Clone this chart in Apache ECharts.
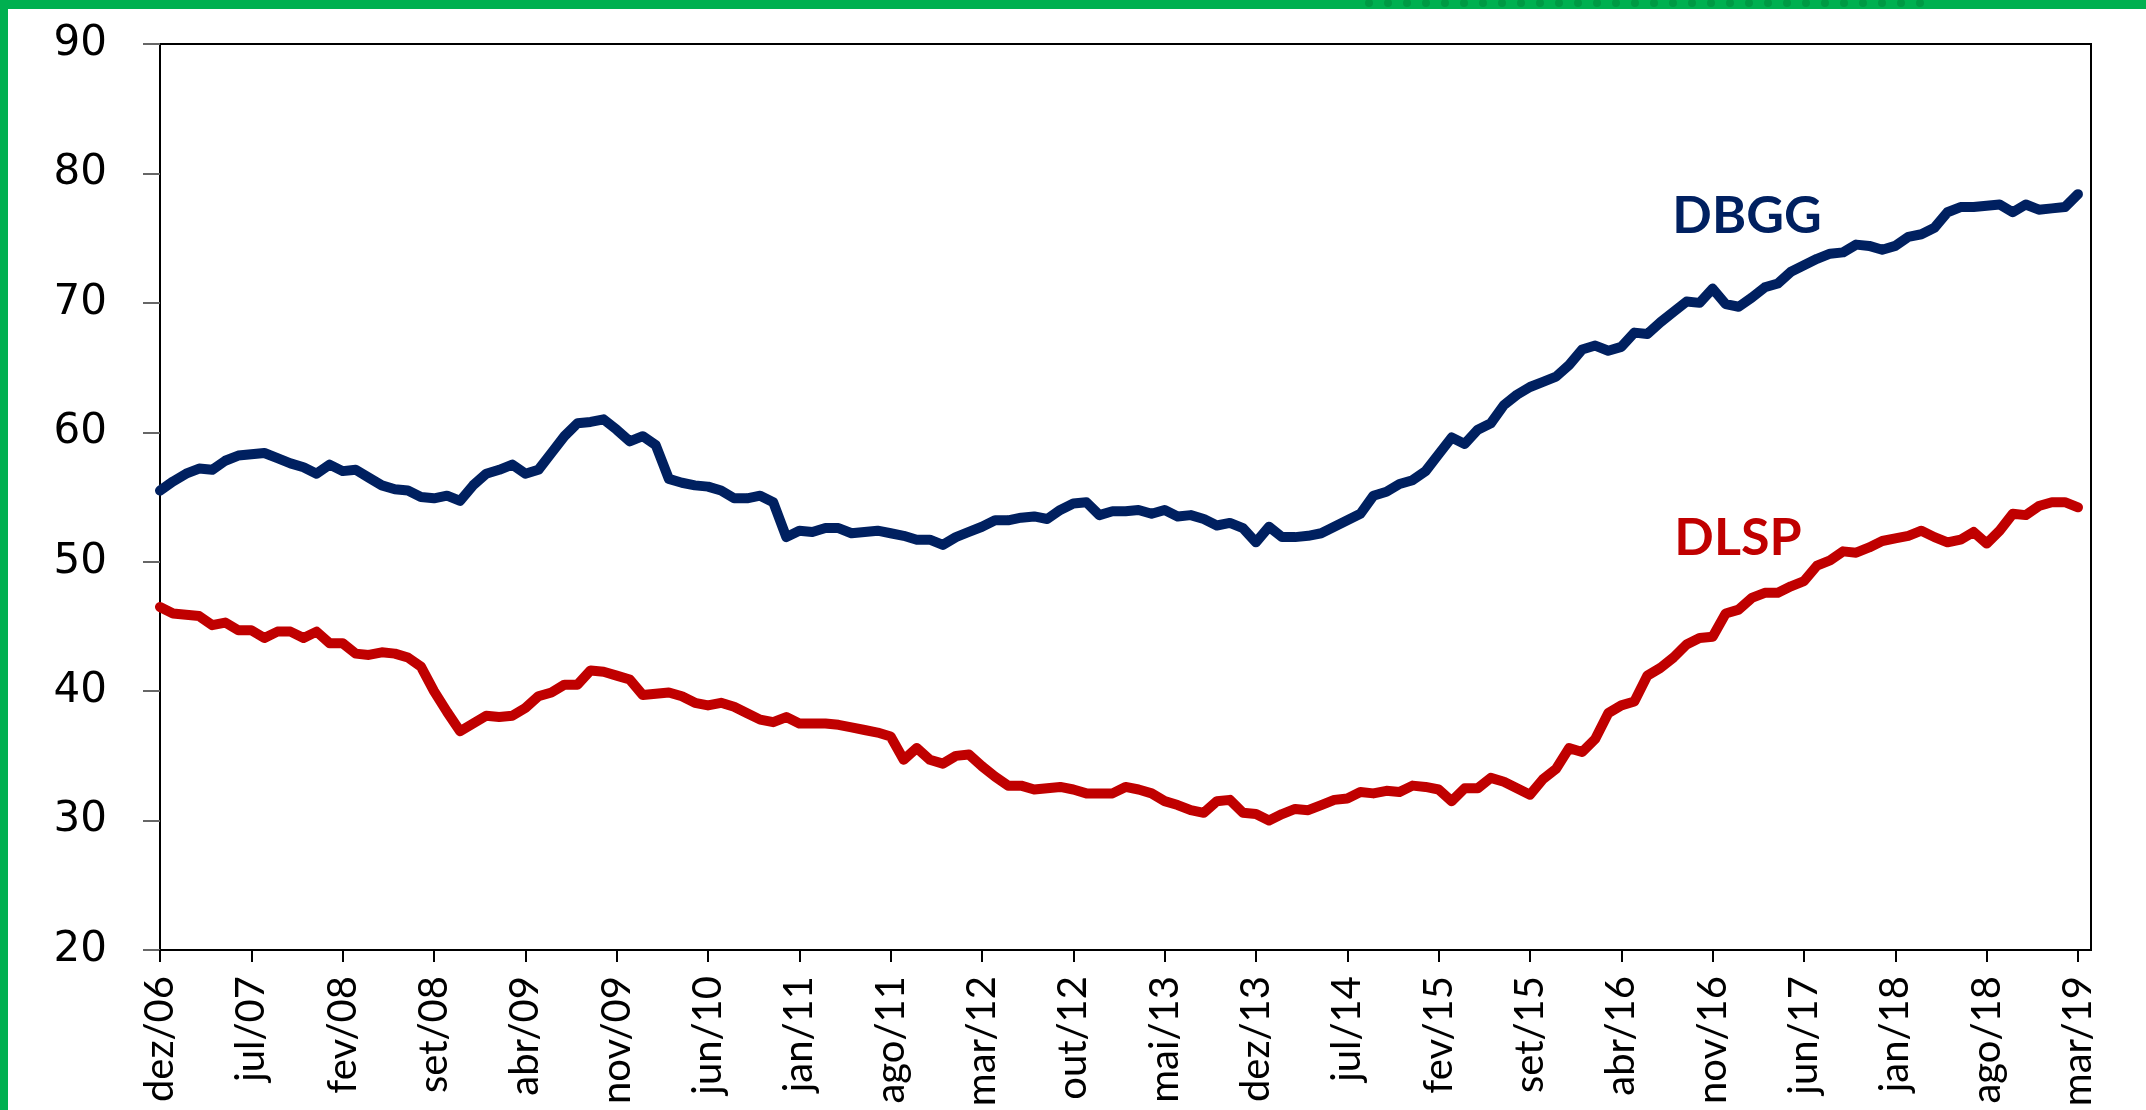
<!DOCTYPE html>
<html>
<head>
<meta charset="UTF-8">
<title>DBGG e DLSP</title>
<script src="https://cdn.jsdelivr.net/npm/echarts@6/dist/echarts.min.js"></script>
<style>
  * { margin: 0; padding: 0; }
  html, body { width: 2146px; height: 1110px; background: #fff; overflow: hidden; }
  #chart { width: 2146px; height: 1110px; }
</style>
</head>
<body>
<div id="chart"></div>
<script>
// month names (pt-BR) used for the category labels, dez/06 .. abr/19
var MONTHS = ['jan', 'fev', 'mar', 'abr', 'mai', 'jun', 'jul', 'ago', 'set', 'out', 'nov', 'dez'];
var categories = ['dez/06'];
for (var y = 7; y <= 19; y++) {
  for (var m = 0; m < 12; m++) {
    categories.push(MONTHS[m] + '/' + (y < 10 ? '0' + y : y));
    if (y === 19 && m === 3) break;
  }
}

// % do PIB, mensal dez/06 - mar/19
var dbgg = [
  55.5, 56.2, 56.8, 57.2, 57.1, 57.8, 58.2, 58.3, 58.4, 58.0, 57.6, 57.3,
  56.8, 57.5, 57.0, 57.1, 56.5, 55.9, 55.6, 55.5, 55.0, 54.9, 55.1, 54.7,
  55.9, 56.8, 57.1, 57.5, 56.8, 57.1, 58.4, 59.7, 60.7, 60.8, 61.0, 60.2,
  59.3, 59.7, 59.0, 56.4, 56.1, 55.9, 55.8, 55.5, 54.9, 54.9, 55.1, 54.6,
  51.9, 52.4, 52.3, 52.6, 52.6, 52.2, 52.3, 52.4, 52.2, 52.0, 51.7, 51.7,
  51.3, 51.9, 52.3, 52.7, 53.2, 53.2, 53.4, 53.5, 53.3, 54.0, 54.5, 54.6,
  53.6, 53.9, 53.9, 54.0, 53.7, 54.0, 53.5, 53.6, 53.3, 52.8, 53.0, 52.6,
  51.5, 52.7, 51.9, 51.9, 52.0, 52.2, 52.7, 53.2, 53.7, 55.1, 55.4, 56.0,
  56.3, 57.0, 58.3, 59.6, 59.1, 60.2, 60.7, 62.1, 62.9, 63.5, 63.9, 64.3,
  65.2, 66.4, 66.7, 66.3, 66.6, 67.7, 67.6, 68.5, 69.3, 70.1, 70.0, 71.1,
  69.9, 69.7, 70.4, 71.2, 71.5, 72.4, 72.9, 73.4, 73.8, 73.9, 74.5, 74.4,
  74.1, 74.4, 75.1, 75.3, 75.8, 77.0, 77.4, 77.4, 77.5, 77.6, 77.0, 77.6,
  77.2, 77.3, 77.4, 78.4
];

var dlsp = [
  46.5, 46.0, 45.9, 45.8, 45.1, 45.3, 44.7, 44.7, 44.1, 44.6, 44.6, 44.1,
  44.6, 43.7, 43.7, 42.9, 42.8, 43.0, 42.9, 42.6, 41.9, 40.0, 38.4, 36.9,
  37.5, 38.1, 38.0, 38.1, 38.7, 39.6, 39.9, 40.5, 40.5, 41.6, 41.5, 41.2,
  40.9, 39.7, 39.8, 39.9, 39.6, 39.1, 38.9, 39.1, 38.8, 38.3, 37.8, 37.6,
  38.0, 37.5, 37.5, 37.5, 37.4, 37.2, 37.0, 36.8, 36.5, 34.7, 35.6, 34.7,
  34.4, 35.0, 35.1, 34.2, 33.4, 32.7, 32.7, 32.4, 32.5, 32.6, 32.4, 32.1,
  32.1, 32.1, 32.6, 32.4, 32.1, 31.5, 31.2, 30.8, 30.6, 31.5, 31.6, 30.6,
  30.5, 30.0, 30.5, 30.9, 30.8, 31.2, 31.6, 31.7, 32.2, 32.1, 32.3, 32.2,
  32.7, 32.6, 32.4, 31.5, 32.5, 32.5, 33.3, 33.0, 32.5, 32.0, 33.2, 34.0,
  35.6, 35.3, 36.3, 38.3, 38.9, 39.2, 41.2, 41.8, 42.6, 43.6, 44.1, 44.2,
  46.0, 46.3, 47.2, 47.6, 47.6, 48.1, 48.5, 49.7, 50.1, 50.8, 50.7, 51.1,
  51.6, 51.8, 52.0, 52.4, 51.9, 51.5, 51.7, 52.3, 51.4, 52.4, 53.7, 53.6,
  54.3, 54.6, 54.6, 54.2
];

var BLUE = '#002060';
var RED = '#C00000';
var GREEN = '#00B050';

// decorative dots on the green top band
var dots = [];
for (var k = 0; k < 30; k++) {
  dots.push({
    type: 'circle',
    shape: { cx: 1369 + k * 19, cy: 3, r: 4 },
    style: { fill: '#009a44' },
    z: 101
  });
}

var chart = echarts.init(document.getElementById('chart'));

var option = {
  animation: false,
  backgroundColor: '#fff',
  grid: {
    left: 160,
    right: 55,
    top: 44,
    bottom: 160,
    show: true,
    borderColor: '#000',
    borderWidth: 2
  },
  xAxis: {
    type: 'category',
    data: categories,
    boundaryGap: false,
    axisLine: { lineStyle: { color: '#000', width: 2 } },
    axisTick: { interval: 6, length: 12, lineStyle: { color: '#000', width: 2 } },
    axisLabel: {
      interval: 6,
      rotate: 90,
      margin: 26,
      color: '#000',
      fontSize: 40,
      fontFamily: 'Lato'
    },
    splitLine: { show: false }
  },
  yAxis: {
    type: 'value',
    min: 20,
    max: 90,
    interval: 10,
    axisLine: { show: true, lineStyle: { color: '#000', width: 2 } },
    axisTick: { show: true, length: 17, lineStyle: { color: '#666', width: 2 } },
    axisLabel: {
      margin: 53,
      color: '#000',
      fontSize: 42,
      fontFamily: 'DejaVu Sans'
    },
    splitLine: { show: false }
  },
  series: [
    {
      name: 'DBGG',
      type: 'line',
      data: dbgg,
      showSymbol: false,
      lineStyle: { color: BLUE, width: 10, cap: 'round', join: 'round' },
      itemStyle: { color: BLUE },
      z: 3
    },
    {
      name: 'DLSP',
      type: 'line',
      data: dlsp,
      showSymbol: false,
      lineStyle: { color: RED, width: 10, cap: 'round', join: 'round' },
      itemStyle: { color: RED },
      z: 3
    }
  ],
  graphic: [
    { type: 'rect', shape: { x: 0, y: 0, width: 2146, height: 9 }, style: { fill: GREEN }, z: 100 },
    { type: 'rect', shape: { x: 0, y: 0, width: 8, height: 1110 }, style: { fill: GREEN }, z: 100 },
    {
      type: 'text', x: 1747, y: 216, z: 50,
      style: {
        text: 'DBGG', fill: BLUE, fontSize: 52, fontWeight: 'bold', fontFamily: 'Lato',
        align: 'center', verticalAlign: 'middle'
      }
    },
    {
      type: 'text', x: 1738, y: 538, z: 50,
      style: {
        text: 'DLSP', fill: RED, fontSize: 52, fontWeight: 'bold', fontFamily: 'Lato',
        align: 'center', verticalAlign: 'middle'
      }
    }
  ].concat(dots)
};

chart.setOption(option);
</script>
</body>
</html>
